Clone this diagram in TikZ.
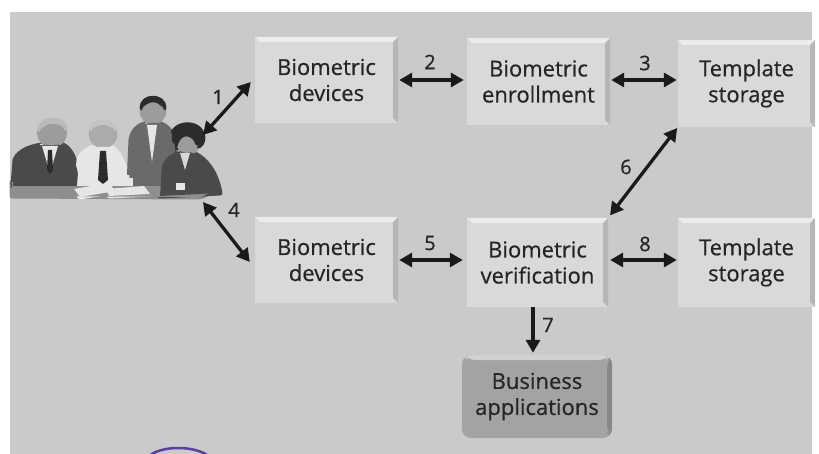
\documentclass[tikz,border=0pt]{standalone}
\usepackage{fontspec}
\setmainfont{Open Sans}[UprightFeatures={FakeBold=0.6}]
\usetikzlibrary{arrows.meta}

\definecolor{paper}{HTML}{FFFFFF}
\definecolor{bggrey}{HTML}{CACACD}
\definecolor{boxgrey}{HTML}{D9D9DB}
\definecolor{appgrey}{HTML}{A3A3A6}
\definecolor{ink}{HTML}{252527}
\definecolor{arrowink}{HTML}{1A1A1A}
\definecolor{stamp}{HTML}{5A3F9C}
\definecolor{suitdark}{HTML}{4A4A4C}
\definecolor{suitmid}{HTML}{6A6A6C}
\definecolor{skin}{HTML}{9C9C9E}
\definecolor{hairdark}{HTML}{2C2C2E}
\definecolor{shirt}{HTML}{E6E6E8}
\definecolor{tabletop}{HTML}{8E8E90}

% four people around a table, drawn in grey tones
\newcommand\meetingshapes{%
  % table
  \fill[tabletop] (12,182) -- (200,182) .. controls (214,184) and (214,195) .. (198,197) -- (12,196) -- cycle;
  % seated man, left
  \fill[suitdark] (13,186) -- (15,160) .. controls (19,150) and (33,146) .. (43,145) -- (63,145) .. controls (73,150) and (77,165) .. (80,186) -- cycle;
  \fill[shirt] (42,146) -- (58,146) -- (50,173) -- cycle;
  \fill[hairdark] (48,150) -- (52,150) -- (53,170) -- (50,174) -- (47,170) -- cycle;
  \fill[skin] (52,133) circle[radius=12.5];
  \fill[skin!70!white] (40,130) .. controls (41,118) and (62,116) .. (65,128) -- (59,125) .. controls (52,122) and (46,124) .. (40,130) -- cycle;
  % seated man in shirt
  \fill[shirt] (77,186) -- (79,160) .. controls (83,150) and (91,147) .. (98,147) -- (110,147) .. controls (119,150) and (125,165) .. (130,186) -- cycle;
  \fill[hairdark] (100,151) -- (106,151) -- (108,180) -- (103,184) -- (98,180) -- cycle;
  \fill[skin!85!white] (103,134) circle[radius=12];
  \fill[skin!60!white] (92,129) .. controls (93,119) and (113,119) .. (114,129) -- (108,126) .. controls (103,124) and (97,125) .. (92,129) -- cycle;
  % standing man
  \fill[suitmid] (129,186) -- (131,140) .. controls (133,128) and (141,124) .. (150,123) -- (158,123) .. controls (168,126) and (173,132) .. (175,146) -- (173,186) -- cycle;
  \fill[shirt] (147,125) -- (157,125) -- (152,162) -- cycle;
  \fill[skin] (153,111) circle[radius=11];
  \fill[hairdark] (142,108) .. controls (142,95) and (164,95) .. (164,108) -- (157,103) .. controls (152,101) and (147,103) .. (142,108) -- cycle;
  % seated woman, right
  \fill[suitdark] (160,196) -- (162,166) .. controls (165,156) and (175,151) .. (185,151) .. controls (200,153) and (215,166) .. (220,193) -- cycle;
  \fill[shirt!80!skin] (180,153) -- (190,153) -- (185,170) -- cycle;
  \fill[skin] (187,141) circle[radius=12];
  \fill[hairdark] (172,141) .. controls (169,121) and (202,119) .. (203,138) .. controls (202,147) and (196,149) .. (194,141) .. controls (189,134) and (180,134) .. (177,148) -- cycle;
  % papers and cups
  \fill[shirt] (74,189) -- (108,183) -- (116,191) -- (80,197) -- cycle;
  \fill[shirt] (106,189) -- (144,186) -- (150,194) -- (109,196) -- cycle;
  \fill[shirt] (125,178) rectangle (133,186);
  \fill[shirt] (176,183) rectangle (185,190);
}

\begin{document}
\begin{tikzpicture}[x=1pt,y=-1pt,
  bevel/.style={path picture={
    \fill[white,opacity=.5] (path picture bounding box.north west) -- (path picture bounding box.north east)
      -- ([shift={(-5pt,-5pt)}]path picture bounding box.north east) -- ([shift={(5pt,-5pt)}]path picture bounding box.north west) -- cycle;
    \fill[black,opacity=.16] (path picture bounding box.north east) -- (path picture bounding box.south east)
      -- ([shift={(-5pt,5pt)}]path picture bounding box.south east) -- ([shift={(-5pt,-5pt)}]path picture bounding box.north east) -- cycle;
  }},
  stage/.style={fill=boxgrey, bevel, minimum width=143pt, minimum height=86pt, inner sep=0pt,
    align=center, text=ink, font=\fontsize{22}{26}\selectfont},
  appbox/.style={stage, fill=appgrey, rounded corners=9pt, minimum width=150pt, minimum height=83pt},
  conn/.style={draw=arrowink, line width=3.3pt,
    {Triangle[length=13pt,width=14pt]}-{Triangle[length=13pt,width=14pt]}},
  oneway/.style={draw=arrowink, line width=3.3pt, -{Triangle[length=13pt,width=14pt]}},
  step label/.style={text=ink, inner sep=0pt, font=\fontsize{20}{24}\selectfont},
  halo/.style={every path/.append style={draw=white, line width=5pt, line join=round}}
]
\useasboundingbox (0,0) rectangle (819,454);
\fill[paper] (0,0) rectangle (819,454);
\fill[bggrey] (10,12) rectangle (812,454);

% stamp edge at the lower margin
\draw[stamp, line width=2.5pt] (148,457) .. controls (160,445) and (196,445) .. (210,457);

% the meeting group: white halo first, then the figures
\begin{scope}[halo]
  \meetingshapes
\end{scope}
\meetingshapes

% process boxes
\node[stage] (dev1) at (326.5,80) {Biometric\\devices};
\node[stage, minimum height=87pt] (enrol) at (538.5,81.5) {Biometric\\enrollment};
\node[stage, minimum width=137pt, minimum height=87pt] (tpl1) at (746.5,83.5) {Template\\storage};
\node[stage] (dev2) at (326.5,260) {Biometric\\devices};
\node[stage, minimum width=141pt, minimum height=89pt] (verif) at (537.5,262.5) {Biometric\\verification};
\node[stage, minimum width=137pt, minimum height=89pt] (tpl2) at (746.5,262.5) {Template\\storage};
\node[appbox] (biz) at (537,396.5) {Business\\applications};

% ends of the links at the meeting group
\coordinate (grp1) at (203,135);
\coordinate (grp4) at (203,202);

% links
\draw[conn] (grp1) -- ([shift={(-4pt,-2pt)}]dev1.west);
\draw[conn] (grp4) -- ([shift={(-5pt,-2pt)}]dev2.west);
\draw[conn, shorten >=3pt, shorten <=1pt] (dev1.east) -- (dev1.east -| enrol.west);
\draw[conn, shorten >=1pt, shorten <=1pt] (enrol.east |- dev1.east) -- (dev1.east -| tpl1.west);
\draw[conn, shorten >=4pt, shorten <=1pt] (dev2.east) -- (dev2.east -| verif.west);
\draw[conn, shorten >=1pt, shorten <=2pt] (verif.east |- dev2.east) -- (dev2.east -| tpl2.west);
\draw[conn, shorten >=1pt, shorten <=3pt] (verif.north east) -- (tpl1.south west);
\draw[oneway, shorten >=2pt] ([xshift=-4pt]biz.north |- verif.south) -- ([xshift=-4pt]biz.north);

% step numbers
\node[step label] (n1) at (218,97) {1};
\node[step label] (n2) at (430,62) {2};
\node[step label] (n3) at (645,63) {3};
\node[step label] (n4) at (234,210) {4};
\node[step label] (n5) at (430,243) {5};
\node[step label] (n6) at (626,167) {6};
\node[step label] (n7) at (548,325) {7};
\node[step label] (n8) at (645,244) {8};
\end{tikzpicture}
\end{document}
